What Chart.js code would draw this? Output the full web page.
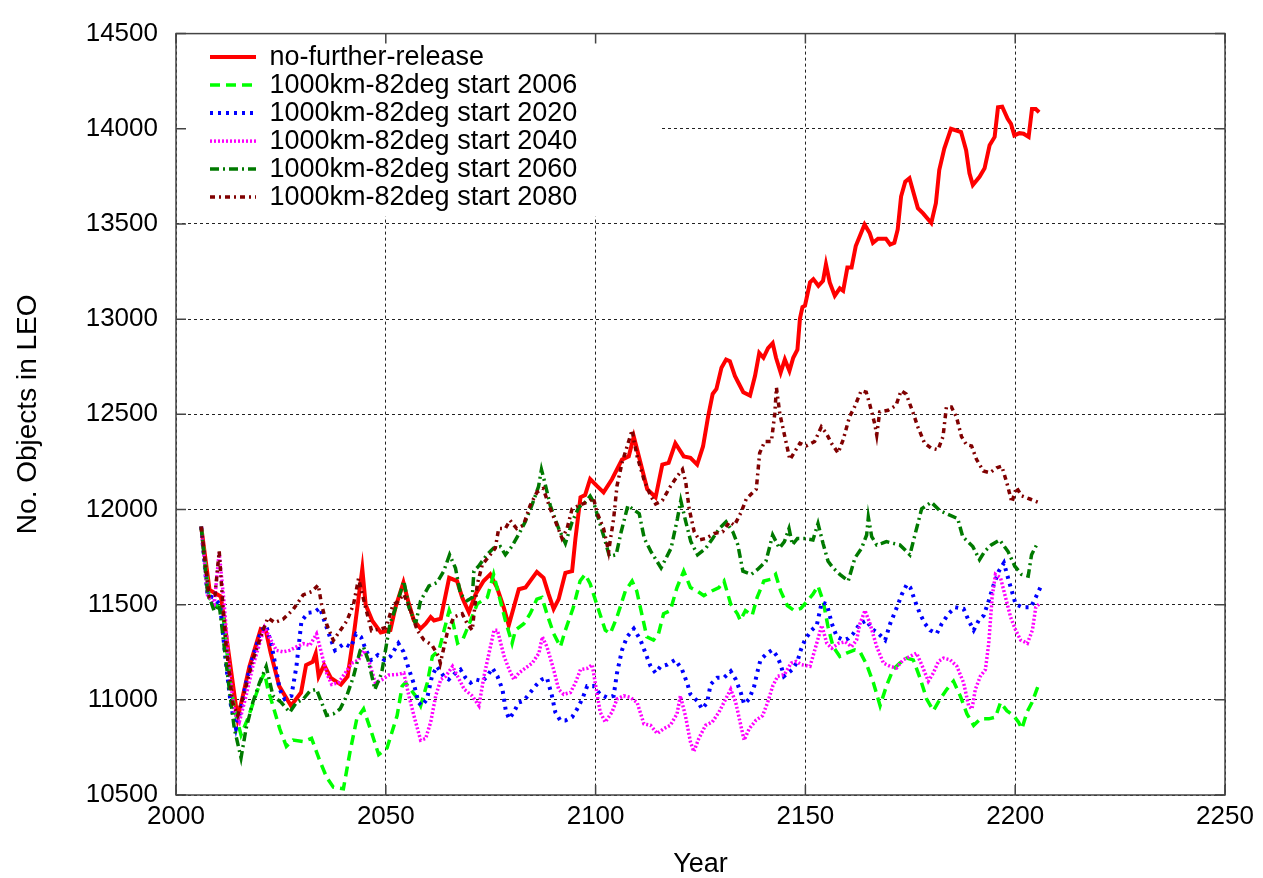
<!DOCTYPE html>
<html>
<head>
<meta charset="utf-8">
<title>No. Objects in LEO</title>
<script src="https://cdn.jsdelivr.net/npm/chart.js@4.4.0/dist/chart.umd.min.js"></script>
<style>
  html, body { margin: 0; padding: 0; background: #fff; }
  #wrap { width: 1263px; height: 878px; }
</style>
</head>
<body>
<div id="wrap"><canvas id="leoChart" width="1263" height="878"></canvas></div>
<script>
// axis ticks
const yearTicks = [2000, 2050, 2100, 2150, 2200, 2250];
const countTicks = [10500, 11000, 11500, 12000, 12500, 13000, 13500, 14000, 14500];

// no-further-release
const nfrYears = [2006, 2008, 2010.7, 2014.7, 2017.5, 2020.2, 2021.4, 2022.6, 2024.6, 2027.4, 2029.8, 2031, 2032.6, 2033.3, 2034, 2035.3, 2036.9, 2039.3, 2040.9, 2042.5, 2044.4, 2045.2, 2046.8, 2048.8, 2051.1, 2052.3, 2054.2, 2055.5, 2056.7, 2058.3, 2059.5, 2060.7, 2061.5, 2063.1, 2065.1, 2067, 2068.2, 2069.8, 2071.4, 2073.3, 2074.9, 2076.5, 2078.1, 2079.3, 2080.5, 2081.7, 2083.3, 2084.4, 2086, 2087.6, 2088.8, 2090, 2091.2, 2092.8, 2094.4, 2095.2, 2096.4, 2097.5, 2098.7, 2100.3, 2101.9, 2103.9, 2106.3, 2107.9, 2109.1, 2110.7, 2112.3, 2114.3, 2115.9, 2117.4, 2119, 2121, 2122.6, 2124.2, 2125.6, 2126.8, 2127.9, 2128.8, 2130, 2131.1, 2132, 2133.2, 2134, 2135.2, 2136.8, 2138, 2139, 2140, 2141.1, 2142.2, 2143, 2144.1, 2145.1, 2146.2, 2147.1, 2148.1, 2148.7, 2149.3, 2149.9, 2151.1, 2151.9, 2153.1, 2154.2, 2154.9, 2155.8, 2157, 2158.2, 2159, 2160, 2161, 2162, 2164.1, 2165.3, 2166.1, 2167.3, 2169.2, 2170.2, 2171.2, 2172, 2172.8, 2173.8, 2174.8, 2176.8, 2178, 2180, 2181.1, 2181.9, 2183.1, 2184.7, 2187.1, 2188.3, 2189.1, 2189.9, 2191.5, 2192.7, 2193.9, 2195.1, 2195.9, 2196.9, 2198.2, 2199, 2199.8, 2201, 2202, 2203.2, 2204, 2204.9, 2205.7];
const nfrCounts = [11910, 11577, 11543, 10900, 11175, 11372, 11364, 11243, 11072, 10969, 11038, 11183, 11200, 11243, 11123, 11183, 11115, 11080, 11123, 11363, 11688, 11500, 11414, 11354, 11366, 11486, 11616, 11504, 11417, 11374, 11400, 11435, 11417, 11426, 11641, 11624, 11538, 11460, 11555, 11624, 11659, 11590, 11486, 11391, 11486, 11581, 11590, 11624, 11672, 11641, 11555, 11478, 11529, 11667, 11676, 11848, 12064, 12076, 12160, 12124, 12090, 12159, 12262, 12279, 12383, 12245, 12107, 12064, 12236, 12245, 12348, 12279, 12271, 12236, 12331, 12486, 12607, 12633, 12745, 12788, 12779, 12702, 12667, 12616, 12598, 12702, 12822, 12797, 12848, 12874, 12797, 12719, 12788, 12728, 12797, 12840, 13003, 13063, 13071, 13193, 13210, 13175, 13201, 13288, 13193, 13123, 13162, 13149, 13271, 13271, 13384, 13497, 13453, 13401, 13422, 13422, 13392, 13401, 13471, 13644, 13722, 13740, 13583, 13557, 13505, 13609, 13783, 13896, 14000, 13983, 13887, 13766, 13705, 13748, 13792, 13913, 13957, 14113, 14116, 14052, 14026, 13965, 13977, 13974, 13957, 14104, 14104, 14087];

// 1000km-82deg start 2006
const s2006Years = [2006, 2007.9, 2009.5, 2011.1, 2013.1, 2014.3, 2015.5, 2017.1, 2018.7, 2020.3, 2021.1, 2021.9, 2023.1, 2024.7, 2026.3, 2027.9, 2030.3, 2032.3, 2034.3, 2035.9, 2037.5, 2039.9, 2041.5, 2043.1, 2044.7, 2046.3, 2048.3, 2050.3, 2052.7, 2053.9, 2054.7, 2055.9, 2057.1, 2058.3, 2059.9, 2061.1, 2062.7, 2063.9, 2065.1, 2065.9, 2067.1, 2068.3, 2069.9, 2071.8, 2074.2, 2075.7, 2076.9, 2078.5, 2080.1, 2080.9, 2082.9, 2084.4, 2086, 2087.2, 2088.4, 2090, 2091.6, 2092.8, 2094.7, 2096.3, 2097.5, 2098.7, 2100.3, 2102.3, 2103.5, 2105.1, 2107.1, 2108.7, 2109.8, 2111, 2112.2, 2113.8, 2115, 2116.2, 2117.8, 2119.4, 2121, 2122.6, 2124.2, 2125.8, 2127.7, 2129.4, 2130.6, 2132.2, 2133.8, 2134.5, 2135.7, 2137.3, 2138.5, 2140.1, 2141.7, 2142.9, 2144.1, 2145.7, 2147.3, 2148.9, 2150.3, 2151.8, 2153, 2154.2, 2155.4, 2156.6, 2158.2, 2159.8, 2161.8, 2163, 2164.6, 2166.2, 2167.8, 2169.3, 2170.9, 2172.5, 2174.1, 2175.7, 2177.3, 2178.9, 2180.5, 2182.1, 2183.7, 2185.3, 2186.9, 2188.5, 2190.1, 2191.7, 2193.7, 2195.3, 2196.5, 2198, 2199.6, 2200.8, 2201.6, 2202.8, 2204, 2205.6];
const s2006Counts = [11910, 11534, 11500, 11466, 11055, 10918, 10815, 10901, 11003, 11106, 11140, 11055, 10969, 10849, 10755, 10789, 10781, 10798, 10678, 10593, 10541, 10533, 10730, 10901, 10952, 10849, 10712, 10747, 10917, 11072, 11090, 11055, 11021, 10969, 11090, 11228, 11262, 11366, 11469, 11417, 11297, 11314, 11400, 11504, 11538, 11659, 11555, 11417, 11297, 11366, 11400, 11452, 11529, 11538, 11452, 11348, 11279, 11366, 11486, 11624, 11659, 11610, 11500, 11366, 11348, 11435, 11572, 11624, 11572, 11452, 11331, 11314, 11348, 11452, 11469, 11590, 11676, 11590, 11572, 11547, 11572, 11590, 11624, 11503, 11452, 11417, 11469, 11443, 11538, 11624, 11633, 11659, 11572, 11495, 11469, 11480, 11515, 11555, 11598, 11521, 11383, 11279, 11228, 11245, 11262, 11253, 11185, 11090, 10969, 11072, 11159, 11193, 11219, 11210, 11116, 11004, 10943, 11004, 11055, 11098, 11021, 10926, 10866, 10900, 10900, 10909, 10986, 10943, 10917, 10883, 10848, 10935, 10986, 11081];

// 1000km-82deg start 2020
const s2020Years = [2006, 2007.5, 2009.1, 2010.5, 2011.9, 2013.1, 2014.3, 2015.5, 2016.7, 2018.3, 2020.3, 2021.5, 2022.7, 2023.9, 2024.7, 2025.9, 2027.5, 2028.7, 2029.9, 2031.5, 2033.1, 2034.3, 2035.5, 2036.7, 2037.9, 2040.1, 2041.7, 2042.9, 2044.1, 2045.3, 2046.5, 2048.1, 2049.7, 2051.1, 2053, 2054.2, 2055.4, 2056.6, 2057.8, 2058.6, 2059.8, 2061, 2062.2, 2063.8, 2065, 2066.6, 2067.8, 2069, 2070.2, 2071.4, 2073, 2074.2, 2075.4, 2076.6, 2077.8, 2078.6, 2079.4, 2080.5, 2081.7, 2082.9, 2084.4, 2086, 2087.2, 2088.4, 2089.6, 2090.4, 2091.6, 2092.8, 2094.4, 2095.6, 2096.8, 2098, 2099.5, 2101.1, 2102.7, 2104.3, 2105.1, 2106.3, 2107.5, 2109.1, 2110.7, 2111.9, 2113.1, 2114.3, 2115.5, 2117.1, 2119, 2120.6, 2121.8, 2122.6, 2124.2, 2125.4, 2126.6, 2127.4, 2129, 2130.6, 2132.2, 2133.4, 2134.6, 2135.4, 2136.6, 2137.8, 2138.5, 2139.3, 2140.9, 2142.1, 2143.3, 2144.1, 2144.9, 2146.9, 2148.1, 2148.9, 2150, 2151.5, 2152.7, 2153.9, 2155.1, 2156.3, 2157.5, 2159.1, 2160.2, 2161.4, 2163, 2164.6, 2165.8, 2167.4, 2169, 2170.2, 2171.8, 2173, 2174.2, 2175, 2176.1, 2177.3, 2178.5, 2179.7, 2181.3, 2182.5, 2184.1, 2185.7, 2187.7, 2188.9, 2190.1, 2191.3, 2192.5, 2193.7, 2194.9, 2196.1, 2197.3, 2198.5, 2200.1, 2201.7, 2203.7, 2204.9, 2206];
const s2020Counts = [11910, 11551, 11534, 11500, 11192, 10969, 10849, 10952, 11089, 11226, 11363, 11389, 11295, 11158, 11055, 11004, 11021, 11175, 11414, 11457, 11462, 11483, 11406, 11329, 11260, 11295, 11277, 11346, 11329, 11260, 11209, 11235, 11209, 11228, 11297, 11253, 11167, 11090, 10986, 10969, 11003, 11124, 11176, 11124, 11107, 11141, 11159, 11116, 11090, 11107, 11098, 11124, 11167, 11124, 11055, 10943, 10900, 10935, 10986, 10995, 11038, 11081, 11107, 11116, 11021, 10935, 10891, 10891, 10909, 10952, 11003, 11072, 11072, 11029, 11012, 11021, 11141, 11262, 11331, 11374, 11314, 11245, 11176, 11141, 11176, 11185, 11210, 11159, 11090, 11029, 10995, 10952, 10986, 11081, 11116, 11116, 11150, 11107, 11038, 10978, 11004, 11072, 11141, 11210, 11245, 11262, 11228, 11185, 11124, 11159, 11202, 11262, 11320, 11366, 11391, 11512, 11503, 11400, 11331, 11314, 11322, 11348, 11400, 11417, 11374, 11348, 11314, 11400, 11486, 11555, 11607, 11590, 11521, 11452, 11400, 11366, 11348, 11400, 11452, 11486, 11478, 11417, 11366, 11417, 11443, 11521, 11607, 11676, 11719, 11624, 11503, 11486, 11486, 11538, 11590];

// 1000km-82deg start 2040
const s2040Years = [2006, 2007.5, 2009.1, 2010.3, 2011.5, 2012.7, 2013.9, 2015.1, 2016.7, 2018.3, 2019.9, 2021.1, 2022.3, 2023.9, 2025.5, 2027.1, 2028.7, 2030.3, 2031.9, 2033.5, 2034.7, 2035.9, 2037.1, 2038.7, 2040.3, 2041.9, 2043.5, 2044.7, 2045.9, 2047.5, 2049.1, 2050.7, 2052.7, 2054.3, 2055.5, 2056.7, 2058.3, 2059.5, 2060.7, 2061.9, 2063.1, 2064.3, 2065.9, 2067.1, 2068.7, 2070.6, 2072.2, 2073.4, 2074.6, 2075.8, 2076.6, 2078.2, 2079.4, 2080.5, 2081.7, 2083.3, 2084.9, 2086.5, 2087.3, 2088.4, 2090, 2091.2, 2092.4, 2094, 2095.2, 2096.4, 2098, 2099.2, 2099.9, 2101.1, 2102.3, 2103.9, 2105.1, 2106.7, 2108.3, 2109.9, 2111.5, 2113.1, 2114.7, 2116.2, 2117.8, 2119.4, 2120.2, 2121.4, 2122.6, 2123.4, 2124.6, 2126.2, 2127.8, 2129.4, 2131, 2132.2, 2133.4, 2134.6, 2135.4, 2136.6, 2138.2, 2139.8, 2141, 2142.2, 2143.4, 2145, 2146.6, 2147.8, 2149, 2151.1, 2152.7, 2153.9, 2155.1, 2156.3, 2157.9, 2159.5, 2161, 2162.2, 2163, 2164.2, 2165.4, 2167, 2168.6, 2170.2, 2171.7, 2173.3, 2174.9, 2176.5, 2177.7, 2179.3, 2180.5, 2181.7, 2182.9, 2184.5, 2186.1, 2187.7, 2188.9, 2189.7, 2190.5, 2191.7, 2192.9, 2193.7, 2194.5, 2195.3, 2196.5, 2197.7, 2198.9, 2200.1, 2201.3, 2202.9, 2204.1, 2204.9, 2205.7];
const s2040Counts = [11910, 11551, 11500, 11774, 11500, 11158, 10935, 10884, 11021, 11175, 11295, 11380, 11329, 11260, 11252, 11260, 11278, 11295, 11286, 11346, 11243, 11140, 11081, 11089, 11140, 11192, 11209, 11260, 11209, 11089, 11106, 11130, 11133, 11141, 11021, 10917, 10788, 10797, 10883, 11021, 11107, 11124, 11176, 11124, 11055, 11021, 10969, 11124, 11245, 11366, 11366, 11228, 11159, 11107, 11141, 11167, 11193, 11245, 11331, 11279, 11159, 11055, 11029, 11038, 11090, 11159, 11165, 11185, 11090, 10935, 10883, 10935, 11004, 11021, 11012, 10986, 10874, 10866, 10823, 10848, 10866, 10926, 11021, 10917, 10779, 10728, 10797, 10866, 10883, 10935, 11004, 11055, 10986, 10866, 10788, 10848, 10892, 10917, 10986, 11072, 11124, 11133, 11193, 11202, 11185, 11176, 11297, 11391, 11297, 11271, 11297, 11305, 11279, 11314, 11400, 11469, 11400, 11279, 11193, 11176, 11167, 11210, 11228, 11245, 11185, 11098, 11141, 11202, 11219, 11210, 11176, 11090, 10969, 10952, 11055, 11124, 11159, 11297, 11538, 11659, 11641, 11538, 11435, 11366, 11314, 11297, 11366, 11486, 11503];

// 1000km-82deg start 2060
const s2060Years = [2006, 2007.5, 2009.1, 2010.3, 2012.7, 2013.9, 2015.5, 2016.7, 2018.3, 2019.9, 2021.5, 2023.1, 2025.1, 2027.1, 2028.7, 2030.3, 2031.9, 2033.5, 2034.7, 2035.9, 2037.5, 2039.1, 2040.7, 2042.3, 2043.9, 2044.7, 2045.8, 2047.4, 2049, 2051, 2052.6, 2054.3, 2055.5, 2057.1, 2058.3, 2060.3, 2062.2, 2063.8, 2065.2, 2066.6, 2067.8, 2069.4, 2070.6, 2071, 2072.1, 2074.1, 2075.7, 2077.3, 2078.5, 2080, 2081.6, 2083.2, 2084.8, 2086.4, 2087.1, 2087.8, 2089.2, 2091.2, 2092.8, 2094.4, 2096, 2097.5, 2098.7, 2099.5, 2100.9, 2102.1, 2103.3, 2104.9, 2106.1, 2107.7, 2108.8, 2110.4, 2111.6, 2113.2, 2115.6, 2118, 2119.5, 2120.3, 2121.5, 2122.7, 2124.3, 2126.3, 2127.9, 2129.5, 2131.1, 2132.7, 2133.9, 2135.1, 2137.1, 2138.6, 2140.6, 2142.2, 2143.8, 2145, 2146.1, 2146.9, 2148.1, 2149.7, 2151.8, 2153, 2154.2, 2155.4, 2156.6, 2158.2, 2160.2, 2161.8, 2163.4, 2164.6, 2165, 2165.8, 2167, 2168.2, 2169.3, 2170.9, 2172.5, 2174.9, 2176.1, 2177.7, 2180, 2182, 2183.6, 2186.3, 2187.5, 2188.7, 2189.9, 2191.5, 2192.7, 2194.3, 2196.3, 2198.3, 2199.9, 2201.5, 2203.1, 2203.9, 2205.1];
const s2060Counts = [11910, 11568, 11466, 11500, 11055, 10849, 10695, 10849, 10986, 11089, 11175, 11021, 10986, 10935, 10986, 11003, 11046, 11055, 10986, 10918, 10926, 10952, 11021, 11123, 11260, 11277, 11209, 11055, 11140, 11400, 11500, 11624, 11486, 11400, 11521, 11598, 11616, 11676, 11762, 11693, 11555, 11521, 11538, 11676, 11702, 11762, 11797, 11805, 11762, 11805, 11866, 11934, 12021, 12120, 12210, 12150, 12021, 11900, 11822, 11934, 12012, 12038, 12070, 12040, 11935, 11848, 11754, 11762, 11883, 12021, 12003, 11978, 11848, 11779, 11693, 11797, 11952, 12047, 11935, 11831, 11762, 11797, 11848, 11900, 11935, 11883, 11814, 11676, 11659, 11685, 11728, 11866, 11797, 11831, 11900, 11814, 11848, 11848, 11840, 11926, 11822, 11728, 11693, 11659, 11624, 11745, 11797, 11866, 11960, 11857, 11814, 11822, 11831, 11822, 11814, 11762, 11866, 12003, 12038, 11995, 11978, 11952, 11857, 11831, 11805, 11736, 11779, 11814, 11840, 11779, 11702, 11659, 11650, 11762, 11814];

// 1000km-82deg start 2080
const s2080Years = [2006, 2007.9, 2009.3, 2010.3, 2011.1, 2011.9, 2013.5, 2014.7, 2016.3, 2018.3, 2020.7, 2021.9, 2023.5, 2025.5, 2027.9, 2030.3, 2032.3, 2033.9, 2034.7, 2035.9, 2037.5, 2039.1, 2040.7, 2042.3, 2043.5, 2045, 2046.6, 2048.6, 2050.1, 2051.7, 2052.7, 2054.3, 2055.9, 2057.5, 2059.1, 2061, 2062.6, 2063, 2064.6, 2066.2, 2068.2, 2069.4, 2070.6, 2071.8, 2073, 2074.9, 2076.1, 2076.9, 2078.5, 2079.6, 2081.2, 2082.8, 2084.4, 2086, 2087.5, 2089.2, 2090.8, 2092, 2093.2, 2094.4, 2096, 2098, 2099.5, 2100.3, 2101.9, 2103.1, 2104.3, 2105.1, 2106.3, 2107.5, 2108.7, 2109.1, 2109.9, 2111.5, 2113.1, 2114.3, 2115.9, 2117.9, 2119.5, 2120.7, 2121.5, 2122.3, 2123.5, 2124.7, 2126.3, 2128.3, 2130.3, 2131.9, 2133.1, 2134.7, 2135.9, 2137.1, 2138.3, 2139.1, 2140.3, 2141.9, 2142.7, 2143.1, 2143.9, 2145.1, 2146.3, 2147.5, 2148.7, 2150.2, 2152.2, 2153.8, 2155, 2156.2, 2157.8, 2159, 2160.5, 2161.7, 2163.3, 2164.5, 2165.3, 2166.5, 2167, 2167.7, 2169.7, 2171.6, 2172.8, 2174, 2175.6, 2176.8, 2178.4, 2180, 2181.6, 2182.8, 2183.6, 2184.8, 2186, 2187.2, 2188.4, 2189.6, 2190.8, 2192.4, 2194, 2195.6, 2196.8, 2198, 2199.2, 2200.3, 2201.5, 2203.5, 2205.5];
const s2080Counts = [11910, 11543, 11551, 11780, 11520, 11294, 10986, 10918, 11038, 11209, 11363, 11431, 11406, 11423, 11474, 11551, 11568, 11603, 11500, 11397, 11312, 11363, 11414, 11500, 11637, 11500, 11363, 11372, 11380, 11500, 11512, 11555, 11469, 11366, 11314, 11288, 11228, 11193, 11348, 11435, 11452, 11400, 11366, 11607, 11710, 11762, 11797, 11900, 11900, 11943, 11900, 11917, 12021, 12090, 12110, 12003, 11917, 11848, 11900, 12003, 12021, 12038, 12060, 11986, 11900, 11779, 11952, 12124, 12245, 12331, 12417, 12366, 12279, 12159, 12072, 12029, 12047, 12124, 12176, 12210, 12141, 12003, 11883, 11840, 11848, 11874, 11883, 11935, 11917, 11986, 12055, 12081, 12107, 12297, 12357, 12357, 12503, 12640, 12503, 12383, 12262, 12305, 12348, 12334, 12357, 12434, 12400, 12348, 12297, 12366, 12486, 12538, 12624, 12616, 12555, 12452, 12391, 12512, 12521, 12547, 12624, 12607, 12512, 12434, 12348, 12322, 12314, 12383, 12538, 12538, 12486, 12383, 12340, 12334, 12262, 12202, 12193, 12219, 12228, 12141, 12038, 12116, 12072, 12055, 12038];

function toPoints(years, counts) {
    return years.map((yr, i) => ({ x: yr, y: counts[i] }));
}

function makeSeries(label, years, counts, color, dash, width, order) {
    return {
        label: label,
        data: toPoints(years, counts),
        borderColor: color,
        backgroundColor: color,
        borderWidth: width,
        borderDash: dash,
        pointRadius: 0,
        tension: 0,
        fill: false,
        order: order
    };
}

// legend drawn inside the plot, on a white patch that hides the grid
const legendInPlot = {
    id: 'legendInPlot',
    beforeLayout(chart) {
        const lg = chart.legend;
        if (!lg) return;
        lg._layers = () => [{
            z: 0,
            draw() {
                const a = chart.chartArea;
                const ctx = chart.ctx;
                ctx.save();
                ctx.fillStyle = '#ffffff';
                ctx.fillRect(a.left + 1, a.top + 1, 483, 182);
                ctx.restore();
                lg.draw();
            }
        }];
    },
    afterLayout(chart) {
        const lg = chart.legend;
        const a = chart.chartArea;
        lg.left = a.left + 33;
        lg.top = a.top + 9;
        lg.right = a.left + 484;
        lg.bottom = a.top + 183;
    }
};

// gnuplot style frame with inward ticks
const plotFrame = {
    id: 'plotFrame',
    beforeDatasetsDraw(chart) {
        const a = chart.chartArea;
        const ctx = chart.ctx;
        const xs = chart.scales.x;
        const ys = chart.scales.y;
        ctx.save();
        ctx.strokeStyle = '#444';
        ctx.lineWidth = 1.5;
        ctx.setLineDash([]);
        ctx.strokeRect(a.left, a.top, a.right - a.left, a.bottom - a.top);
        ctx.beginPath();
        yearTicks.forEach((v) => {
            const px = xs.getPixelForValue(v);
            ctx.moveTo(px, a.bottom); ctx.lineTo(px, a.bottom - 10);
            ctx.moveTo(px, a.top); ctx.lineTo(px, a.top + 10);
        });
        countTicks.forEach((v) => {
            const py = ys.getPixelForValue(v);
            ctx.moveTo(a.left, py); ctx.lineTo(a.left + 10, py);
            ctx.moveTo(a.right, py); ctx.lineTo(a.right - 10, py);
        });
        ctx.stroke();
        ctx.restore();
    }
};

Chart.defaults.font.family = "'Liberation Sans', Arial, sans-serif";
Chart.defaults.color = '#000';

const gridStyle = {
    color: '#222',
    lineWidth: 1,
    drawTicks: false
};

new Chart(document.getElementById('leoChart'), {
    type: 'line',
    data: {
        datasets: [
            makeSeries('no-further-release', nfrYears, nfrCounts, '#ff0000', [], 4, 6),
            makeSeries('1000km-82deg start 2006', s2006Years, s2006Counts, '#00ff00', [10, 6], 3.5, 5),
            makeSeries('1000km-82deg start 2020', s2020Years, s2020Counts, '#0000ff', [3, 5], 4, 4),
            makeSeries('1000km-82deg start 2040', s2040Years, s2040Counts, '#ff00ff', [2, 2], 3.5, 3),
            makeSeries('1000km-82deg start 2060', s2060Years, s2060Counts, '#007a00', [9, 4, 2, 4], 3.5, 2),
            makeSeries('1000km-82deg start 2080', s2080Years, s2080Counts, '#800000', [5, 4, 2, 4], 3.5, 1)
        ]
    },
    options: {
        responsive: false,
        animation: false,
        events: [],
        layout: {
            padding: { top: 22, right: 38, left: 0, bottom: 0 }
        },
        plugins: {
            tooltip: { enabled: false },
            legend: {
                position: 'chartArea',
                align: 'start',
                labels: {
                    usePointStyle: true,
                    pointStyle: 'line',
                    pointStyleWidth: 46,
                    padding: 1,
                    textAlign: 'left',
                    color: '#000',
                    font: { size: 27 },
                    sort: (a, b) => a.datasetIndex - b.datasetIndex,
                    generateLabels: (chart) => {
                        const items = Chart.defaults.plugins.legend.labels.generateLabels(chart);
                        items.forEach((item) => {
                            const ds = chart.data.datasets[item.datasetIndex];
                            item.lineDash = ds.borderDash;
                            item.lineWidth = ds.borderWidth;
                            item.strokeStyle = ds.borderColor;
                        });
                        return items;
                    }
                }
            }
        },
        scales: {
            x: {
                type: 'linear',
                min: 2000,
                max: 2250,
                afterBuildTicks: (scale) => {
                    scale.ticks = yearTicks.map((v) => ({ value: v }));
                },
                afterFit: (scale) => { scale.height = 83; },
                grid: gridStyle,
                border: { display: false, dash: [3, 3] },
                ticks: {
                    padding: 6,
                    maxRotation: 0,
                    font: { family: "'Liberation Sans Narrow', 'Liberation Sans', Arial, sans-serif", size: 26 },
                    callback: (v) => String(v)
                },
                title: {
                    display: true,
                    text: 'Year',
                    font: { size: 27, lineHeight: 1 },
                    padding: { top: 0, bottom: 0 }
                }
            },
            y: {
                type: 'linear',
                min: 10500,
                max: 14500,
                afterBuildTicks: (scale) => {
                    scale.ticks = countTicks.map((v) => ({ value: v }));
                },
                afterFit: (scale) => { scale.width = 176; },
                grid: gridStyle,
                border: { display: false, dash: [3, 3] },
                ticks: {
                    padding: 18,
                    font: { size: 26 },
                    callback: (v) => String(v)
                },
                title: {
                    display: true,
                    text: 'No. Objects in LEO',
                    font: { size: 28 },
                    padding: { top: 11, bottom: 0 }
                }
            }
        }
    },
    plugins: [legendInPlot, plotFrame]
});
</script>
</body>
</html>
